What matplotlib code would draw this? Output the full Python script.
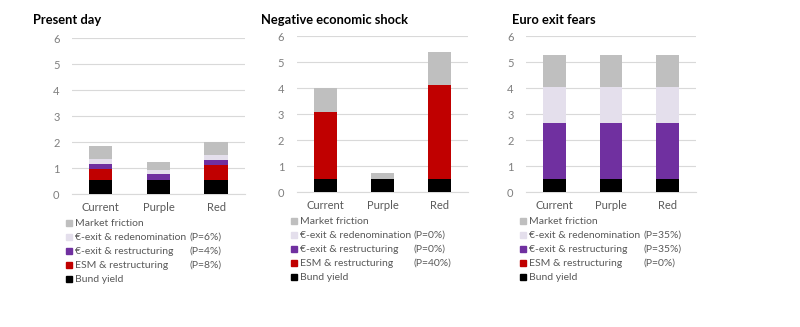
import matplotlib.pyplot as plt
from matplotlib.transforms import offset_copy

plt.rcParams['font.family'] = ['Lato', 'DejaVu Sans']

scenarios = ["Current", "Purple", "Red"]
titles = ["Present day", "Negative economic shock", "Euro exit fears"]

series_names = ["Bund yield", "ESM & restructuring", "€-exit & restructuring",
                "€-exit & redenomination", "Market friction"]
colors = ["#000000", "#c00000", "#7030a0", "#e4dfec", "#bfbfbf"]

# stacked components per panel, bottom to top (percentage points)
present_bund = [0.55, 0.55, 0.55]
present_esm = [0.42, 0.00, 0.55]
present_exit_restr = [0.18, 0.22, 0.22]
present_redenom = [0.20, 0.15, 0.18]
present_friction = [0.51, 0.33, 0.50]

shock_bund = [0.51, 0.51, 0.51]
shock_esm = [2.56, 0.00, 3.60]
shock_exit_restr = [0.00, 0.00, 0.00]
shock_redenom = [0.00, 0.00, 0.00]
shock_friction = [0.95, 0.22, 1.27]

exit_bund = [0.51, 0.51, 0.51]
exit_esm = [0.00, 0.00, 0.00]
exit_exit_restr = [2.16, 2.16, 2.16]
exit_redenom = [1.37, 1.37, 1.37]
exit_friction = [1.22, 1.22, 1.22]

# probability labels for the ESM / restructuring / redenomination rows
present_probs = ["(P=8%)", "(P=4%)", "(P=6%)"]
shock_probs = ["(P=40%)", "(P=0%)", "(P=0%)"]
exit_probs = ["(P=0%)", "(P=35%)", "(P=35%)"]

panels = [
    [present_bund, present_esm, present_exit_restr, present_redenom, present_friction],
    [shock_bund, shock_esm, shock_exit_restr, shock_redenom, shock_friction],
    [exit_bund, exit_esm, exit_exit_restr, exit_redenom, exit_friction],
]
probs = [present_probs, shock_probs, exit_probs]

fig = plt.figure(figsize=(8, 3.27), dpi=100)
axes_rects = [
    [0.090, 0.4067, 0.216, 0.477],
    [0.371, 0.4128, 0.214, 0.477],
    [0.6575, 0.4128, 0.2125, 0.477],
]
title_x = [33, 261, 512]

for k, (rect, comps) in enumerate(zip(axes_rects, panels)):
    ax = fig.add_axes(rect)
    bottom = [0.0] * len(scenarios)
    for vals, col in zip(comps, colors):
        ax.bar(scenarios, vals, bottom=bottom, width=0.4, color=col, zorder=3)
        bottom = [b + v for b, v in zip(bottom, vals)]

    ax.set_ylim(0, 6)
    ax.set_xlim(-0.5, 2.5)
    ax.set_yticks(range(0, 7))
    ax.yaxis.grid(True, color="#d9d9d9", linewidth=0.8, zorder=0)
    for s in ["top", "right", "left"]:
        ax.spines[s].set_visible(False)
    ax.spines["bottom"].set_color("#d9d9d9")
    ax.tick_params(length=0, labelsize=8, colors="#595959")
    ax.tick_params(axis="y", pad=9, labelcolor="#7f7f7f")
    ax.tick_params(axis="x", pad=6)

    fig.text(title_x[k] / 800, 1 - 20 / 327, titles[k], fontsize=9.3,
             fontweight="bold", va="center", ha="left")

    # legend below the axis, top entry first
    for row, idx in enumerate(range(4, -1, -1)):
        dy = -29 - 14 * row
        mtrans = offset_copy(ax.transAxes, fig=fig, x=-3, y=dy, units="dots")
        ax.plot(0, 0, marker="s", markersize=4.5, color=colors[idx],
                transform=mtrans, clip_on=False)
        ttrans = offset_copy(ax.transAxes, fig=fig, x=3, y=dy, units="dots")
        ax.text(0, 0, series_names[idx], transform=ttrans, fontsize=7.5,
                color="#595959", va="center", ha="left")
        if 1 <= idx <= 3:
            ptrans = offset_copy(ax.transAxes, fig=fig, x=117, y=dy, units="dots")
            ax.text(0, 0, probs[k][idx - 1], transform=ptrans, fontsize=7.5,
                    color="#595959", va="center", ha="left")

fig.savefig("out.png", dpi=100)
